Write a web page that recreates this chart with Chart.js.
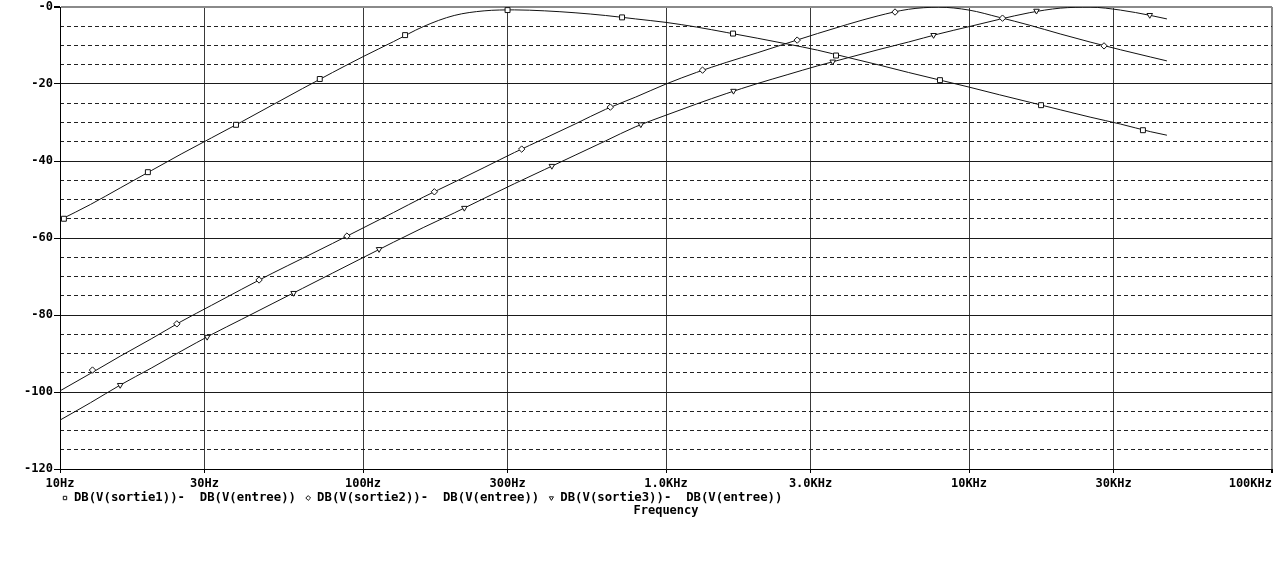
<!DOCTYPE html>
<html>
<head>
<meta charset="utf-8">
<title>DB(V(sortie)) - DB(V(entree))</title>
<script src="https://cdn.jsdelivr.net/npm/chart.js@4.4.0/dist/chart.umd.min.js"></script>
<style>
  html, body { margin: 0; padding: 0; background: #fff; }
  #wrap { width: 1280px; height: 562px; }
</style>
</head>
<body>
<div id="wrap"><canvas id="bode"></canvas></div>
<script>
// ------------------------------------------------------------
// Values (gain in dB vs frequency)
// ------------------------------------------------------------
const freqHz = [10, 12.6, 15.8, 20, 25.1, 31.6, 39.8, 50.1, 63.1, 79.4,
  100, 126, 158, 200, 251, 316, 398, 501, 631, 794,
  1000, 1260, 1580, 2000, 2510, 3160, 3980, 5010, 6310, 7940,
  10000, 12600, 15800, 20000, 25100, 31600, 39800, 45000];

const sortie1Db = [-55.3, -51.3, -47.0, -42.5, -38.2, -34.0, -29.8, -25.5, -21.2, -17.0,
  -12.9, -9.0, -5.1, -2.2, -1.0, -0.75, -1.0, -1.5, -2.2, -3.1,
  -4.0, -5.2, -6.6, -8.1, -9.6, -11.2, -13.1, -15.0, -17.0, -18.9,
  -20.8, -22.8, -24.7, -26.7, -28.6, -30.4, -32.4, -33.3];

const sortie2Db = [-99.7, -95.2, -90.7, -86.2, -81.7, -77.5, -73.3, -69.2, -65.3, -61.4,
  -57.4, -53.4, -49.4, -45.5, -41.7, -37.8, -34.1, -30.4, -26.6, -23.4,
  -20.0, -17.0, -14.4, -11.9, -9.4, -6.9, -4.5, -2.3, -0.6, -0.05,
  -0.8, -2.7, -4.7, -7.0, -9.1, -11.1, -13.0, -14.0];

const sortie3Db = [-107.3, -102.8, -98.2, -93.8, -89.4, -85.1, -81.1, -77.1, -73.1, -69.1,
  -65.1, -61.1, -57.3, -53.5, -49.7, -45.9, -42.2, -38.5, -34.8, -31.1,
  -28.1, -25.2, -22.5, -19.9, -17.6, -15.3, -13.2, -11.1, -9.1, -7.0,
  -5.1, -3.2, -1.5, -0.3, -0.05, -0.8, -2.2, -3.1];

// marker symbols PSpice drops along each trace
const marker1Hz = [10.3, 19.5, 38.1, 72, 137.7, 300, 716, 1664, 3640, 8020, 17290, 37500];
const marker1Db = [-55.0, -42.9, -30.6, -18.7, -7.3, -0.8, -2.7, -6.9, -12.6, -19.0, -25.5, -32.0];
const marker2Hz = [12.8, 24.3, 45.4, 88.5, 172, 334, 655, 1320, 2710, 5700, 12900, 27900];
const marker2Db = [-94.3, -82.3, -70.9, -59.5, -48.0, -36.9, -26.0, -16.4, -8.6, -1.3, -2.9, -10.1];
const marker3Hz = [15.8, 30.6, 59, 113, 216, 420, 826, 1670, 3550, 7640, 16700, 39500];
const marker3Db = [-98.2, -85.7, -74.3, -62.9, -52.2, -41.3, -30.5, -21.8, -14.2, -7.3, -1.0, -2.1];

const xTickHz = [10, 30, 100, 300, 1000, 3000, 10000, 30000, 100000];
const xTickLabels = ['10Hz', '30Hz', '100Hz', '300Hz', '1.0KHz', '3.0KHz', '10KHz', '30KHz', '100KHz'];
const yMajorDb = [-120, -100, -80, -60, -40, -20, 0];
const yTickLabels = ['-120', '-100', '-80', '-60', '-40', '-20', '-0'];

const legendLabels = [
  'DB(V(sortie1))-  DB(V(entree))',
  'DB(V(sortie2))-  DB(V(entree))',
  'DB(V(sortie3))-  DB(V(entree))',
];
const markerStyles = ['rect', 'rectRot', 'triangle'];
const markerRotations = [0, 0, 180];

// ------------------------------------------------------------
const SYS_FONT = "'DejaVu Sans Mono', 'Liberation Mono', monospace";
const tickFont = { family: SYS_FONT, size: 12, weight: 'bold' };
const INK = '#111';

function curve(label, db) {
  return {
    label,
    data: freqHz.map((f, i) => ({ x: f, y: db[i] })),
    borderColor: INK,
    borderWidth: 1,
    pointRadius: 0,
    cubicInterpolationMode: 'monotone',
    fill: false,
    order: 1,
  };
}

function markers(label, hz, db, i) {
  return {
    label,
    data: hz.map((f, k) => ({ x: f, y: db[k] })),
    showLine: false,
    pointStyle: markerStyles[i],
    pointRotation: markerRotations[i],
    pointRadius: i === 0 ? 3.5 : 3.2,
    pointBorderColor: INK,
    pointBackgroundColor: '#fff',
    pointBorderWidth: 1,
    order: 0,
  };
}

// legend line + symbols, PSpice style, between tick labels and axis title
const pspiceLegend = {
  id: 'pspiceLegend',
  afterDraw(chart) {
    const { ctx, chartArea } = chart;
    ctx.save();
    ctx.font = `bold 12.3px ${SYS_FONT}`;
    ctx.textBaseline = 'middle';
    ctx.textAlign = 'left';
    const cw = ctx.measureText('M').width;
    const y = chartArea.bottom + 29;
    let x = chartArea.left + 5;
    legendLabels.forEach((label, i) => {
      ctx.fillStyle = '#fff';
      ctx.strokeStyle = INK;
      ctx.lineWidth = 1;
      Chart.helpers.drawPoint(ctx, {
        pointStyle: markerStyles[i], rotation: markerRotations[i], radius: 2.4, borderWidth: 1,
      }, x, y);
      ctx.fillStyle = '#000';
      ctx.fillText(label, x + cw * 1.2, y);
      x += cw * 1.2 + ctx.measureText(label).width + cw * 1.65;
    });
    ctx.restore();
  },
};

new Chart(document.getElementById('bode'), {
  type: 'line',
  data: {
    datasets: [
      markers('sortie1 markers', marker1Hz, marker1Db, 0),
      markers('sortie2 markers', marker2Hz, marker2Db, 1),
      markers('sortie3 markers', marker3Hz, marker3Db, 2),
      curve(legendLabels[0], sortie1Db),
      curve(legendLabels[1], sortie2Db),
      curve(legendLabels[2], sortie3Db),
    ],
  },
  options: {
    responsive: true,
    maintainAspectRatio: false,
    animation: false,
    events: [],
    layout: { padding: { top: 7, right: 8, left: 0, bottom: 0 } },
    plugins: {
      legend: { display: false },
      tooltip: { enabled: false },
    },
    scales: {
      x: {
        type: 'logarithmic',
        min: 10,
        max: 100000,
        afterBuildTicks: (s) => { s.ticks = xTickHz.map((v) => ({ value: v })); },
        afterFit: (s) => { s.height = 93; s.paddingLeft = 0; s.paddingRight = 0; },
        ticks: {
          autoSkip: false,
          maxRotation: 0,
          font: tickFont,
          color: '#000',
          padding: 4,
          // last label sits flush against the right edge like the original
          callback: (v) => {
            const i = xTickHz.indexOf(v);
            return i === xTickHz.length - 1 ? xTickLabels[i] + '      ' : xTickLabels[i];
          },
        },
        grid: {
          color: (c) => (c.index === xTickHz.length - 1 ? '#8a8a8a' : '#3a3a3a'),
          lineWidth: (c) => (c.index === xTickHz.length - 1 ? 2 : 1),
          tickLength: 4,
          tickColor: '#000',
        },
        border: { color: '#000', width: 1 },
        title: {
          display: true,
          text: 'Frequency',
          font: tickFont,
          color: '#000',
          padding: { top: 0, bottom: 44 },
        },
      },
      y: {
        position: 'left',
        min: -120,
        max: 0,
        afterBuildTicks: (s) => { s.ticks = yMajorDb.map((v) => ({ value: v })); },
        afterFit: (s) => { s.width = 60; s.paddingTop = 0; s.paddingBottom = 0; },
        ticks: {
          font: tickFont,
          color: '#000',
          padding: 1,
          callback: (v) => yTickLabels[yMajorDb.indexOf(v)],
        },
        grid: {
          color: (c) => (c.tick && c.tick.value === 0 ? '#8a8a8a' : '#1a1a1a'),
          lineWidth: (c) => (c.tick && c.tick.value === 0 ? 2 : 1),
          tickLength: 6,
          tickColor: '#000',
        },
        border: { color: '#000', width: 1 },
      },
      yMinor: {
        position: 'right',
        min: -120,
        max: 0,
        ticks: { stepSize: 5, display: false },
        afterFit: (s) => { s.width = 0; s.paddingTop = 0; s.paddingBottom = 0; },
        grid: {
          drawTicks: false,
          color: (c) => (c.tick && c.tick.value % 20 === 0 ? 'rgba(0,0,0,0)' : '#222'),
        },
        border: { display: false, dash: [4, 3] },
      },
    },
  },
  plugins: [pspiceLegend],
});
</script>
</body>
</html>
